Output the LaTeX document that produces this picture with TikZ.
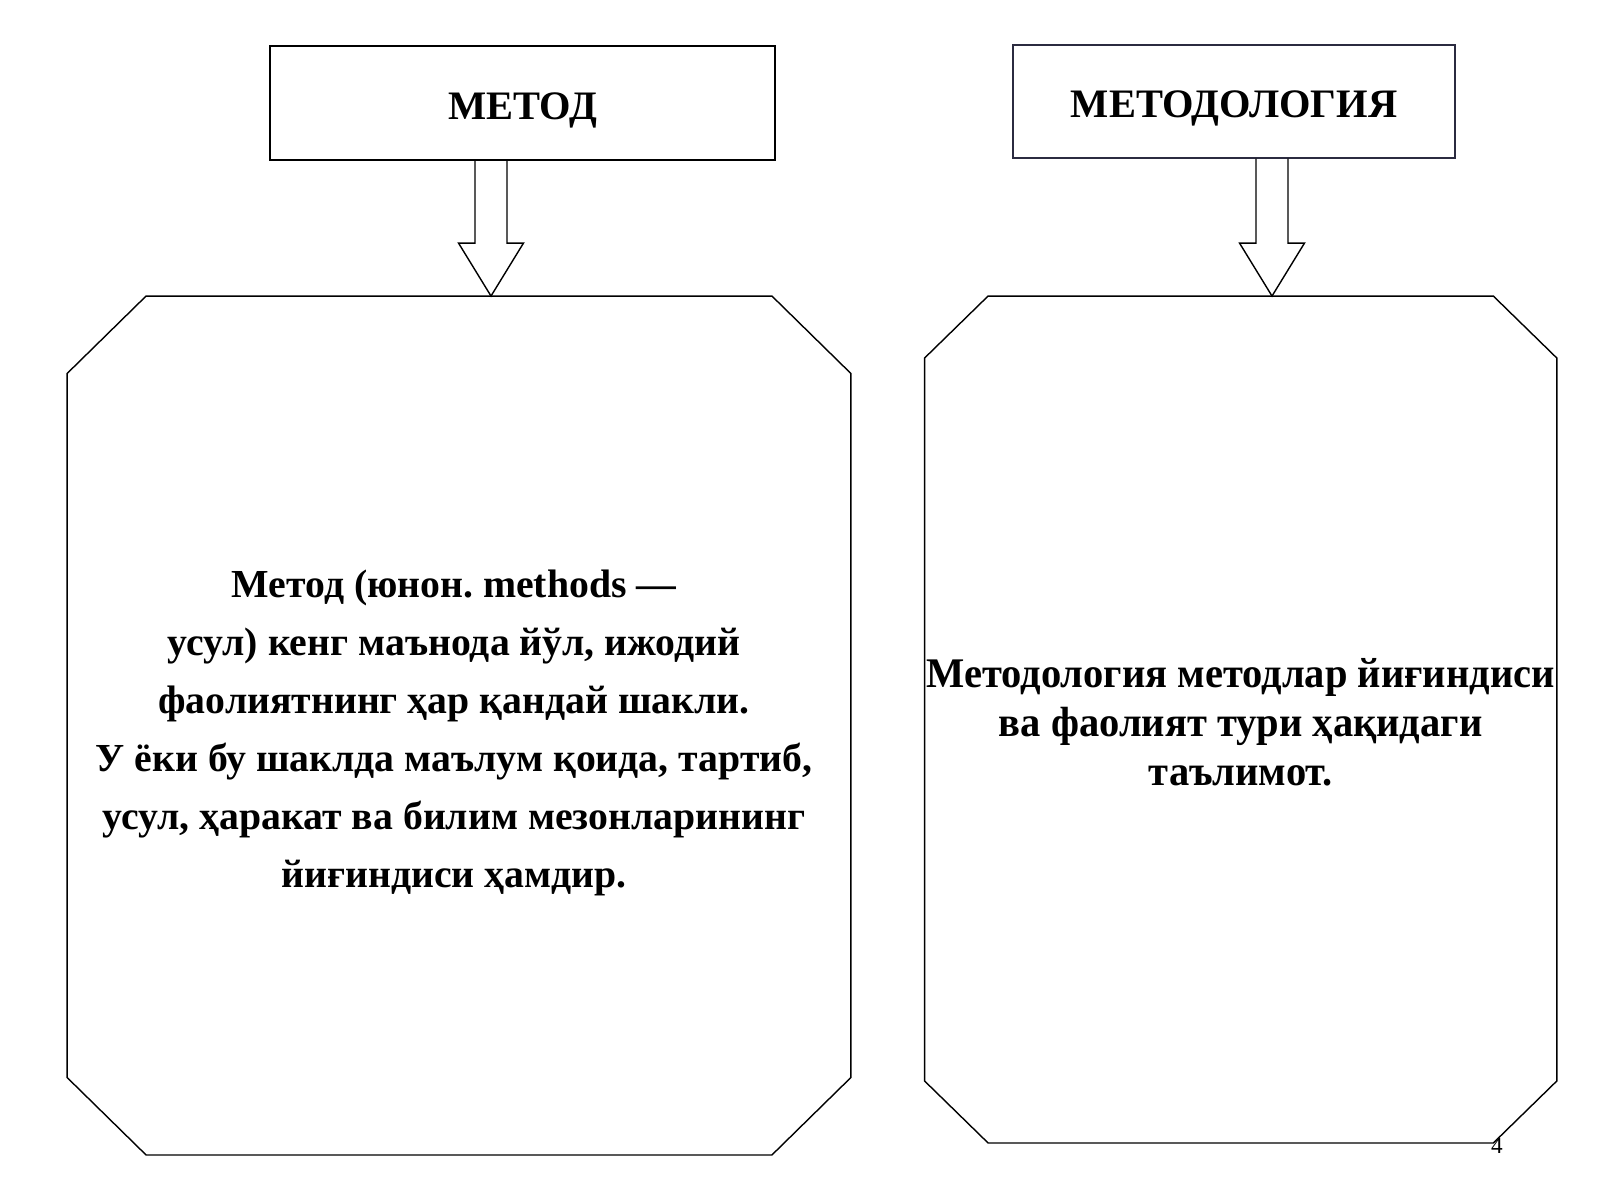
\documentclass[tikz,border=0pt]{standalone}
\usepackage{fontspec}
\setmainfont{Liberation Serif}
\newfontfamily\narrowfont[FakeStretch=0.96]{Liberation Serif}
\usepackage{tikz}
\usetikzlibrary{calc}
\definecolor{darkslate}{rgb}{0.17, 0.17, 0.25}
\frenchspacing

% open block arrow: column coordinate, upper node, lower node
\newcommand{\blockarrow}[3]{%
  \draw ($(#2.south -| #1)+(-16,0)$) -- ($(#3.north -| #1)+(-16,-53)$) -- ++(-16.5,0)
    -- (#3.north -| #1) -- ($(#3.north -| #1)+(32.5,-53)$) -- ++(-16.5,0)
    -- ($(#2.south -| #1)+(16,0)$);
}
% octagon round a node: node, chamfer x, chamfer y
\newcommand{\octagon}[3]{%
  \draw ($(#1.north west)+(#2,0)$) -- ($(#1.north east)+(-#2,0)$) -- ($(#1.north east)+(0,#3)$)
    -- ($(#1.south east)+(0,-#3)$) -- ($(#1.south east)+(-#2,0)$) -- ($(#1.south west)+(#2,0)$)
    -- ($(#1.south west)+(0,-#3)$) -- ($(#1.north west)+(0,#3)$) -- cycle;
}

\begin{document}
\begin{tikzpicture}[x=0.01cm,y=-0.01cm,
    headbox/.style={draw,minimum height=1.14cm,inner sep=0pt,text height=9.1pt,text depth=0pt,
      font=\fontsize{11.5pt}{13pt}\selectfont\bfseries},
    bodybox/.style={minimum width=#1,inner sep=0pt,align=center}]
  \useasboundingbox (0,0) rectangle (1600,1200);

  \node[headbox,minimum width=5.05cm] (metod) at (522.5,103) {МЕТОД};
  \node[headbox,draw=darkslate,minimum width=4.42cm,minimum height=1.13cm] (metodology) at (1234,101.5) {МЕТОДОЛОГИЯ};

  \node[bodybox=7.82cm,minimum height=8.57cm] (metoddef) at (459,725.5) {};
  \node[align=center,inner sep=0pt,font=\fontsize{11.3pt}{16.5pt}\selectfont\bfseries] (metodtext) at (454,733)
    {Метод (юнон. methods —\\усул) кенг маънода йўл, ижодий\\фаолиятнинг ҳар қандай шакли.\\У ёки бу шаклда маълум қоида, тартиб,\\усул, ҳаракат ва билим мезонларининг\\йиғиндиси ҳамдир.};
  \octagon{metoddef}{79}{77.5}

  \node[bodybox=6.305cm,minimum height=8.45cm,font=\narrowfont\fontsize{12pt}{13.9pt}\selectfont\bfseries] (metodologydef) at (1240.7,719.5) {};
  \node[align=center,inner sep=0pt,font=\narrowfont\fontsize{12pt}{13.9pt}\selectfont\bfseries] (metodologytext) at (1240.7,722)
    {Методология методлар йиғиндиси\\ва фаолият тури ҳақидаги\\таълимот.};
  \octagon{metodologydef}{63.5}{62}

  \coordinate (col1) at (491,0);
  \coordinate (col2) at (1272,0);
  \blockarrow{col1}{metod}{metoddef}
  \blockarrow{col2}{metodology}{metodologydef}

  \node[font=\fontsize{6.6pt}{8pt}\selectfont] (pagenum) at (1497,1146) {4};
\end{tikzpicture}
\end{document}
